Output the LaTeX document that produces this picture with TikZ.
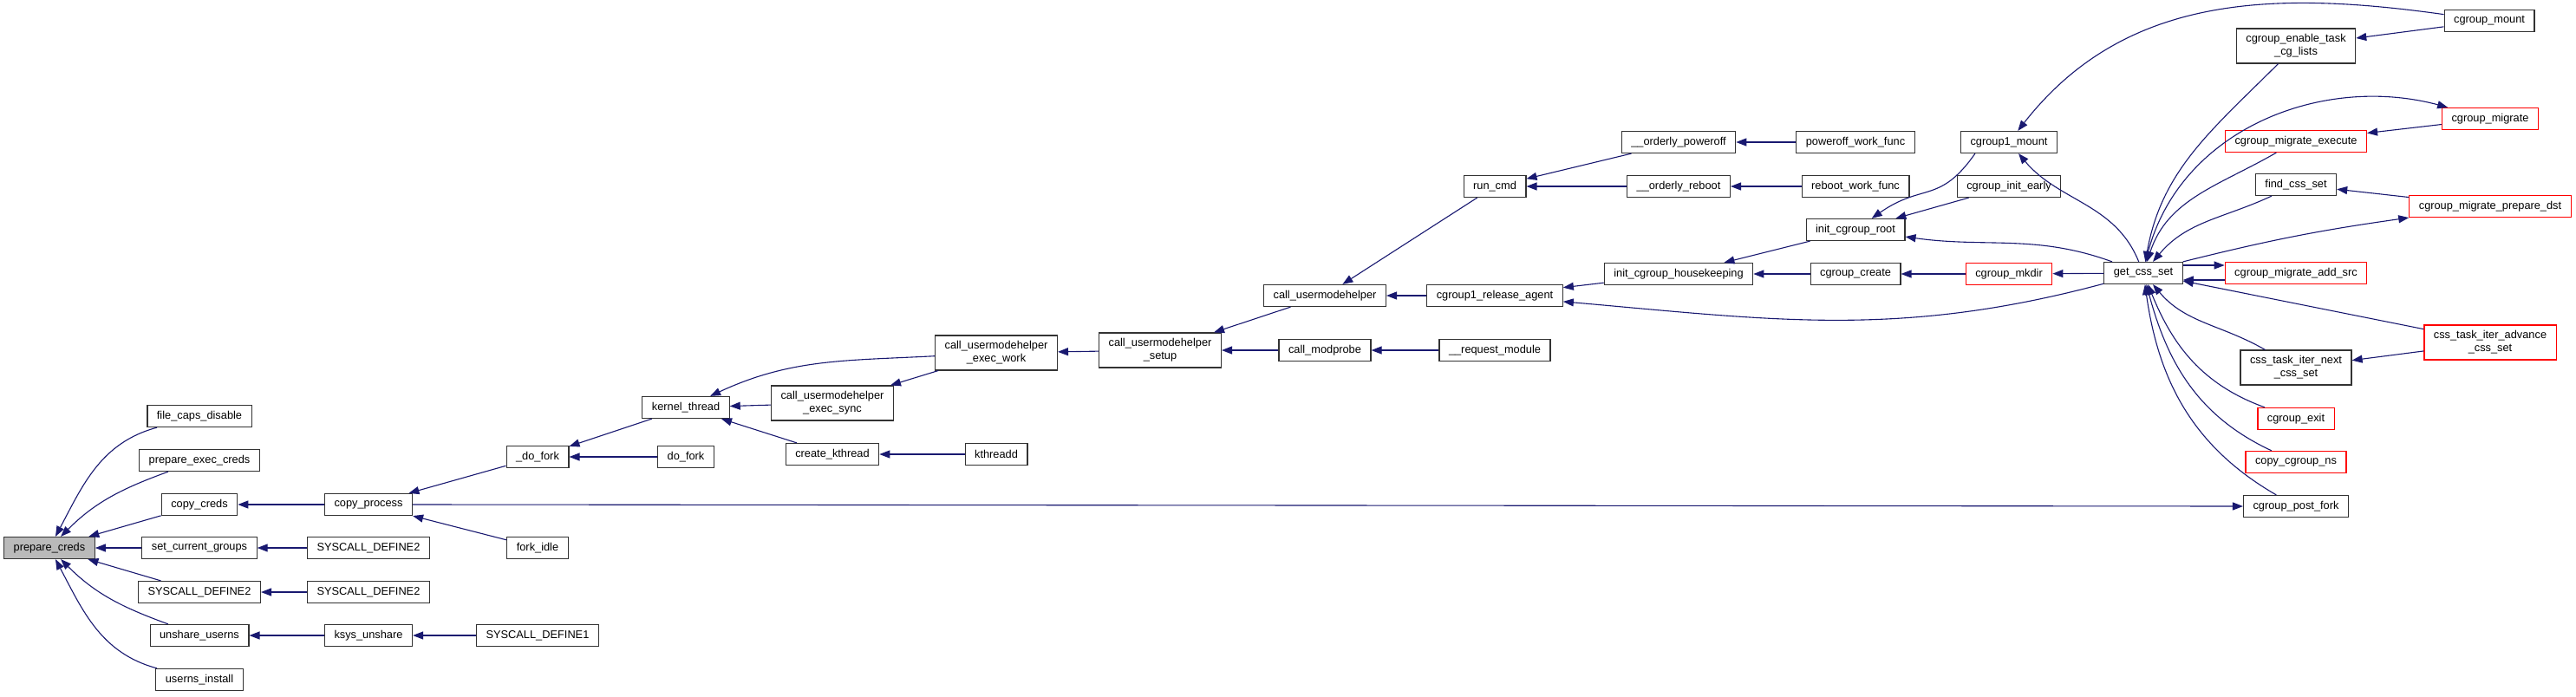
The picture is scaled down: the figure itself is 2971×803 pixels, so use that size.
\documentclass[tikz,border=0pt]{standalone}
\usepackage{fontspec}
\setmainfont{Liberation Sans}
\usepackage{xcolor}
\usepackage{tikz}
\usetikzlibrary{arrows.meta}

\definecolor{edgeblue}{HTML}{191970}

\begin{document}
\begin{tikzpicture}[x=1pt, y=-1pt]
    % Define styles
    \tikzstyle{fn} = [rectangle, draw=black!80, fill=white, line width=1.2pt, minimum height=25pt, inner xsep=11pt, inner ysep=6.5pt, align=center, font=\fontsize{12.8}{15}\selectfont]
    \tikzstyle{fnred} = [fn, draw=red]
    \tikzstyle{fnsel} = [fn, fill=black!27]
    \tikzstyle{caller} = [-{Triangle[length=12pt, width=9pt]}, draw=edgeblue, line width=1.1pt]

    \useasboundingbox (0,0) rectangle (2971,803);

    % Column 0 and 1
    \node[fnsel] (prepcreds) at (57,632) {prepare\_creds};
    \node[fn] (filecaps) at (230,480) {file\_caps\_disable};
    \node[fn] (prepexec) at (230,531) {prepare\_exec\_creds};
    \node[fn] (copycreds) at (230,582) {copy\_creds};
    \node[fn] (setgroups) at (230,632) {set\_current\_groups};
    \node[fn] (sysdefA) at (230,683) {SYSCALL\_DEFINE2};
    \node[fn] (unshareuserns) at (230,733) {unshare\_userns};
    \node[fn] (usernsinstall) at (230,784) {userns\_install};

    % Column 2 and 3
    \node[fn] (copyproc) at (425,582) {copy\_process};
    \node[fn] (sysdefB) at (425,632) {SYSCALL\_DEFINE2};
    \node[fn] (sysdefC) at (425,683) {SYSCALL\_DEFINE2};
    \node[fn] (ksysunshare) at (425,733) {ksys\_unshare};
    \node[fn] (dofork) at (620,527) {\_do\_fork};
    \node[fn] (forkidle) at (620,632) {fork\_idle};
    \node[fn] (sysdefone) at (620,733) {SYSCALL\_DEFINE1};

    % Column 4 to 7
    \node[fn] (kthread) at (791,470) {kernel\_thread};
    \node[fn] (doforkB) at (791,527) {do\_fork};
    \node[fn] (execsync) at (960,465) {call\_usermodehelper\\\_exec\_sync};
    \node[fn] (createkt) at (960,524) {create\_kthread};
    \node[fn] (execwork) at (1149,407) {call\_usermodehelper\\\_exec\_work};
    \node[fn] (kthreadd) at (1149,524) {kthreadd};
    \node[fn] (umhsetup) at (1338,404) {call\_usermodehelper\\\_setup};
    \node[fn] (umh) at (1528,341) {call\_usermodehelper};
    \node[fn] (modprobe) at (1528,404) {call\_modprobe};

    % Column 8 to 10
    \node[fn] (runcmd) at (1724,215) {run\_cmd};
    \node[fn] (relagent) at (1724,341) {cgroup1\_release\_agent};
    \node[fn] (reqmod) at (1724,404) {\_\_request\_module};
    \node[fn] (poweroff) at (1936,164) {\_\_orderly\_poweroff};
    \node[fn] (reboot) at (1936,215) {\_\_orderly\_reboot};
    \node[fn] (housekeep) at (1936,316) {init\_cgroup\_housekeeping};
    \node[fn] (poweroffwf) at (2140,164) {poweroff\_work\_func};
    \node[fn] (rebootwf) at (2140,215) {reboot\_work\_func};
    \node[fn] (initroot) at (2140,265) {init\_cgroup\_root};
    \node[fn] (cgcreate) at (2140,316) {cgroup\_create};

    % Column 11 and 12
    \node[fn] (cgonemount) at (2317,164) {cgroup1\_mount};
    \node[fn] (initearly) at (2317,215) {cgroup\_init\_early};
    \node[fnred] (cgmkdir) at (2317,316) {cgroup\_mkdir};
    \node[fn] (getcss) at (2472,315) {get\_css\_set};

    % Column 13 and 14
    \node[fn] (enabletask) at (2648,53) {cgroup\_enable\_task\\\_cg\_lists};
    \node[fnred] (migexec) at (2648,163) {cgroup\_migrate\_execute};
    \node[fn] (findcss) at (2648,213) {find\_css\_set};
    \node[fnred] (addsrc) at (2648,315) {cgroup\_migrate\_add\_src};
    \node[fn] (iternext) at (2648,424) {css\_task\_iter\_next\\\_css\_set};
    \node[fnred] (cgexit) at (2648,483) {cgroup\_exit};
    \node[fnred] (copyns) at (2648,533) {copy\_cgroup\_ns};
    \node[fn] (postfork) at (2648,584) {cgroup\_post\_fork};
    \node[fn] (cgmount) at (2871,24) {cgroup\_mount};
    \node[fnred] (cgmigrate) at (2872,137) {cgroup\_migrate};
    \node[fnred] (prepdst) at (2872,238) {cgroup\_migrate\_prepare\_dst};
    \node[fnred] (iteradv) at (2872,395) {css\_task\_iter\_advance\\\_css\_set};

    % Edges into prepare_creds
    \draw[caller] (filecaps) to[out=195, in=62] (prepcreds);
    \draw[caller] (prepexec) to[out=200, in=45] (prepcreds);
    \draw[caller] (copycreds) -- (prepcreds);
    \draw[caller] (setgroups) -- (prepcreds);
    \draw[caller] (sysdefA) -- (prepcreds);
    \draw[caller] (unshareuserns) to[out=160, in=-45] (prepcreds);
    \draw[caller] (usernsinstall) to[out=165, in=-62] (prepcreds);

    % Fork and syscall chain
    \draw[caller] (copyproc) -- (copycreds);
    \draw[caller] (sysdefB) -- (setgroups);
    \draw[caller] (sysdefC) -- (sysdefA);
    \draw[caller] (ksysunshare) -- (unshareuserns);
    \draw[caller] (sysdefone) -- (ksysunshare);
    \draw[caller] (dofork) -- (copyproc);
    \draw[caller] (forkidle) -- (copyproc);
    \draw[caller] (copyproc.east) -- (postfork.west);
    \draw[caller] (kthread) -- (dofork);
    \draw[caller] (doforkB) -- (dofork);
    \draw[caller] (execwork) to[out=183, in=25] (kthread);
    \draw[caller] (execsync) -- (kthread);
    \draw[caller] (createkt) -- (kthread);
    \draw[caller] (kthreadd) -- (createkt);
    \draw[caller] (execwork) -- (execsync);
    \draw[caller] (umhsetup) -- (execwork);
    \draw[caller] (umh) -- (umhsetup);
    \draw[caller] (modprobe) -- (umhsetup);
    \draw[caller] (reqmod) -- (modprobe);
    \draw[caller] (runcmd) -- (umh);
    \draw[caller] (relagent) -- (umh);
    \draw[caller] (poweroff) -- (runcmd);
    \draw[caller] (reboot) -- (runcmd);
    \draw[caller] (poweroffwf) -- (poweroff);
    \draw[caller] (rebootwf) -- (reboot);

    % cgroup part
    \draw[caller] (housekeep) -- (relagent);
    \draw[caller] (getcss) to[out=195, in=-5] (relagent);
    \draw[caller] (initroot) -- (housekeep);
    \draw[caller] (cgcreate) -- (housekeep);
    \draw[caller] (cgmkdir) -- (cgcreate);
    \draw[caller] (getcss) -- (cgmkdir);
    \draw[caller] ([xshift=17pt]cgonemount.south west) to[out=235, in=35, looseness=1.3] (initroot);
    \draw[caller] (initearly) -- (initroot);
    \draw[caller] (getcss) to[out=160, in=-8] (initroot);
    \draw[caller] (cgmount) to[out=172, in=52] (cgonemount);
    \draw[caller] (getcss) to[out=112, in=-50] (cgonemount);
    \draw[caller] (enabletask) to[out=225, in=80] (getcss);
    \draw[caller] (cgmount) -- (enabletask);
    \draw[caller] (getcss) to[out=78, in=165] (cgmigrate);
    \draw[caller] (cgmigrate) -- (migexec);
    \draw[caller] (migexec) to[out=210, in=72] (getcss);
    \draw[caller] (prepdst) -- (findcss);
    \draw[caller] (findcss) to[out=205, in=50] (getcss);
    \draw[caller] (getcss.north east) to[bend left=3] (prepdst.south west);
    \draw[caller] ([yshift=9pt]getcss.east) -- ([yshift=9pt]addsrc.west);
    \draw[caller] ([yshift=-8pt]addsrc.west) -- ([yshift=-8pt]getcss.east);
    \draw[caller] (iteradv) -- (getcss);
    \draw[caller] (iteradv) -- (iternext);
    \draw[caller] (iternext) to[out=150, in=-50] (getcss);
    \draw[caller] (cgexit) to[out=160, in=-68] (getcss);
    \draw[caller] (copyns) to[out=155, in=-75] (getcss);
    \draw[caller] (postfork) to[out=150, in=-82] (getcss);
\end{tikzpicture}
\end{document}
